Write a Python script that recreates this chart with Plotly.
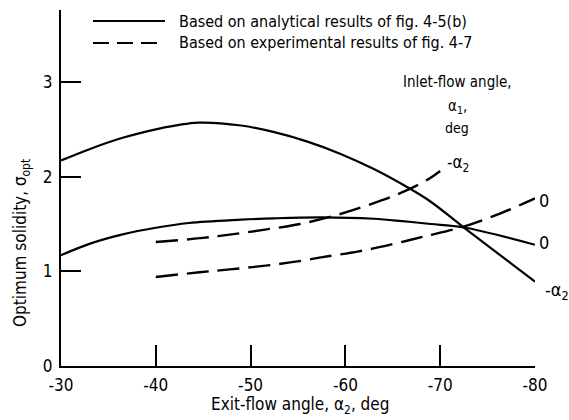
import plotly.graph_objects as go

# Analytical results (solid)
x_ana_neg = [-30, -33, -36.5, -40, -44.5, -49, -52.5, -56, -59.5, -63, -66.5, -69, -72.4, -80]
y_ana_neg = [2.17, 2.29, 2.41, 2.50, 2.57, 2.54, 2.47, 2.37, 2.24, 2.08, 1.89, 1.735, 1.47, 0.89]
x_ana_zero = [-30, -33, -36.5, -40, -43.5, -49, -52.5, -57.5, -63, -66, -69, -72.4, -80]
y_ana_zero = [1.17, 1.29, 1.39, 1.46, 1.51, 1.545, 1.56, 1.57, 1.555, 1.53, 1.50, 1.465, 1.28]
# Experimental results (dashed)
x_exp_neg = [-40, -44.7, -48, -51.5, -55.2, -59.1, -62.4, -65.9, -68.7, -70]
y_exp_neg = [1.31, 1.35, 1.39, 1.44, 1.50, 1.595, 1.70, 1.83, 1.97, 2.06]
x_exp_zero = [-40, -44.6, -47.8, -52.4, -55.9, -57.6, -61.4, -65.1, -68.2, -72.4, -76.3, -80]
y_exp_zero = [0.94, 0.99, 1.02, 1.07, 1.12, 1.15, 1.21, 1.29, 1.365, 1.47, 1.61, 1.77]

x_ticks = [-30, -40, -50, -60, -70, -80]
y_ticks = [0, 1, 2, 3]
legend_labels = ["Based on analytical results of fig. 4-5(b)",
                 "Based on experimental results of fig. 4-7"]

FONT = "DejaVu Sans Condensed, Liberation Sans Narrow, DejaVu Sans, sans-serif"

fig = go.Figure()
solid = dict(color="black", width=2.2, shape="spline", smoothing=1.0)
dashed = dict(color="black", width=2.4, shape="spline", smoothing=1.0, dash="22px,9px")
fig.add_trace(go.Scatter(x=x_ana_neg, y=y_ana_neg, mode="lines", line=solid, showlegend=False))
fig.add_trace(go.Scatter(x=x_ana_zero, y=y_ana_zero, mode="lines", line=solid, showlegend=False))
fig.add_trace(go.Scatter(x=x_exp_neg, y=y_exp_neg, mode="lines", line=dashed, showlegend=False))
fig.add_trace(go.Scatter(x=x_exp_zero, y=y_exp_zero, mode="lines", line=dashed, showlegend=False))

W, H = 569, 420
ml, mr, mt, mb = 61, 34, 10, 54
pw, ph = W - ml - mr, H - mt - mb

def px(xp):
    return (xp - ml) / pw

def py(yp):
    return (H - mb - yp) / ph

# legend samples
fig.add_shape(type="line", xref="paper", yref="paper", x0=px(93), x1=px(165), y0=py(21), y1=py(21),
              line=dict(color="black", width=2))
fig.add_shape(type="line", xref="paper", yref="paper", x0=px(93), x1=px(165), y0=py(43), y1=py(43),
              line=dict(color="black", width=2, dash="16px,8px"))
for lbl, yy in zip(legend_labels, [21, 43]):
    fig.add_annotation(xref="paper", yref="paper", x=px(177), y=py(yy), text=lbl, showarrow=False,
                       xanchor="left", yanchor="middle", font=dict(size=16, family=FONT, color="black"))

ann = [
    ("Inlet-flow angle,", 457, 82, 15),
    ("α<sub>1</sub>,", 457, 106, 15),
    ("deg", 457, 128, 14),
    ("-α<sub>2</sub>", 458, 163, 17),
    ("0", 544, 200, 18),
    ("0", 544, 242, 18),
    ("-α<sub>2</sub>", 557, 291, 18),
]
for t, xx, yy, s in ann:
    fig.add_annotation(xref="paper", yref="paper", x=px(xx), y=py(yy), text=t, showarrow=False,
                       xanchor="center", yanchor="middle", font=dict(size=s, family=FONT, color="black"))

# axis titles
fig.add_annotation(xref="paper", yref="paper", x=px(300), y=py(405), text="Exit-flow angle, α<sub>2</sub>, deg",
                   showarrow=False, xanchor="center", yanchor="middle",
                   font=dict(size=17, family=FONT, color="black"))
fig.add_annotation(xref="paper", yref="paper", x=px(21), y=py(243), text="Optimum solidity, σ<sub>opt</sub>",
                   showarrow=False, textangle=-90, xanchor="center", yanchor="middle",
                   font=dict(size=17, family=FONT, color="black"))

fig.update_xaxes(range=[-30, -80], tickvals=x_ticks, ticktext=[str(v) for v in x_ticks],
                 ticks="inside", ticklen=21, tickwidth=2, tickcolor="black",
                 showline=True, linecolor="black", linewidth=2, showgrid=False, zeroline=False,
                 tickfont=dict(size=17, family=FONT, color="black"), ticklabelstandoff=3)
fig.update_yaxes(range=[0, 3.76], tickvals=y_ticks, ticktext=[str(v) for v in y_ticks],
                 ticks="inside", ticklen=20, tickwidth=1.5, tickcolor="black",
                 showline=True, linecolor="black", linewidth=2, showgrid=False, zeroline=False,
                 tickfont=dict(size=17, family=FONT, color="black"), ticklabelstandoff=3)

fig.update_layout(width=W, height=H, margin=dict(l=ml, r=mr, t=mt, b=mb),
                  paper_bgcolor="white", plot_bgcolor="white", showlegend=False,
                  font=dict(family=FONT, color="black"))
fig.write_html("out.html")
